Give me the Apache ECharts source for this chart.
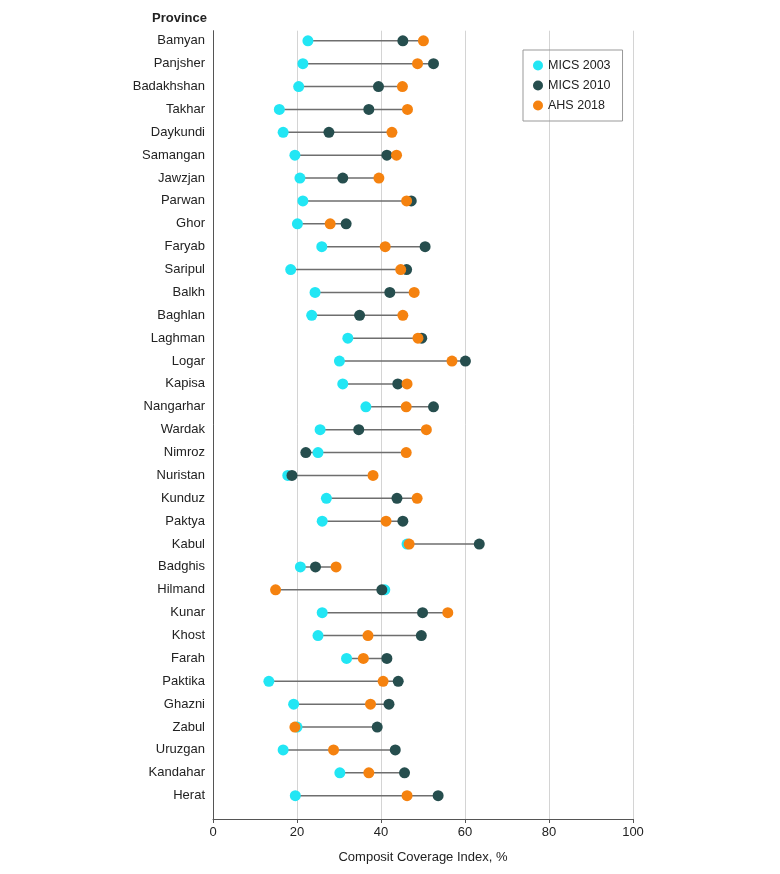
<!DOCTYPE html>
<html>
<head>
<meta charset="utf-8">
<script src="https://cdn.jsdelivr.net/npm/echarts@6/dist/echarts.min.js"></script>
<style>
html,body{margin:0;padding:0;background:#fff;}
#chart{width:780px;height:874px;}
</style>
</head>
<body>
<div id="chart"></div>
<script>
const provinces = ['Bamyan','Panjsher','Badakhshan','Takhar','Daykundi','Samangan','Jawzjan','Parwan','Ghor','Faryab','Saripul','Balkh','Baghlan','Laghman','Logar','Kapisa','Nangarhar','Wardak','Nimroz','Nuristan','Kunduz','Paktya','Kabul','Badghis','Hilmand','Kunar','Khost','Farah','Paktika','Ghazni','Zabul','Uruzgan','Kandahar','Herat'];
const mics2003 = [22.6,21.4,20.4,15.8,16.7,19.5,20.7,21.4,20.1,25.9,18.5,24.3,23.5,32.1,30.1,30.9,36.4,25.5,25.0,17.8,27.0,26.0,46.2,20.8,40.9,26.0,25.0,31.8,13.3,19.2,20.0,16.7,30.2,19.6];
const mics2010 = [45.2,52.5,39.4,37.1,27.6,41.4,30.9,47.2,31.7,50.5,46.1,42.1,34.9,49.7,60.1,44.0,52.5,34.7,22.1,18.8,43.8,45.2,63.4,24.4,40.2,49.9,49.6,41.4,44.1,41.9,39.1,43.4,45.6,53.6];
const ahs2018 = [50.1,48.7,45.1,46.3,42.6,43.7,39.5,46.1,27.9,41.0,44.7,47.9,45.2,48.8,56.9,46.2,46.0,50.8,46.0,38.1,48.6,41.2,46.7,29.3,14.9,55.9,36.9,35.8,40.5,37.5,19.5,28.7,37.1,46.2];
const xTicks = [0,20,40,60,80,100];

const FONT = 'Liberation Sans';
const C1 = '#22E6F4', C2 = '#264E4E', C3 = '#F5820F';
const idx = provinces.map((_, i) => i);

const pts = arr => arr.map((v, i) => [v, i]);
const ranges = idx.map(i => {
  const vals = [mics2003[i], mics2010[i], ahs2018[i]];
  return [Math.min(...vals), Math.max(...vals), i];
});

const chart = echarts.init(document.getElementById('chart'), null, {renderer:'canvas'});
chart.setOption({
  animation: false,
  textStyle: {fontFamily: FONT},
  grid: {left: 213, right: 147, top: 30.7, bottom: 55, containLabel: false},
  xAxis: {
    type: 'value', min: 0, max: 100, interval: 20, position: 'bottom',
    name: 'Composit Coverage Index, %', nameLocation: 'middle', nameGap: 32,
    nameTextStyle: {fontFamily: FONT, fontSize: 13, color: '#222'},
    axisLine: {show: true, onZero: false, lineStyle: {color: '#555', width: 1}},
    axisTick: {show: true, length: 4, lineStyle: {color: '#555'}},
    axisLabel: {fontFamily: FONT, fontSize: 13, color: '#222', margin: 7,
      customValues: xTicks},
    splitLine: {show: true, lineStyle: {color: '#d4d4d4', width: 1}}
  },
  yAxis: {
    type: 'value', inverse: true, min: -0.44, max: 34.02,
    axisLine: {show: true, onZero: false, lineStyle: {color: '#555', width: 1}},
    axisTick: {show: false},
    splitLine: {show: false},
    axisLabel: {
      fontFamily: FONT, fontSize: 13, color: '#222', margin: 8,
      customValues: idx,
      formatter: v => provinces[Math.round(v)] || ''
    }
  },
  legend: {
    orient: 'vertical', left: 523, top: 50,
    padding: [9, 12, 9, 10], itemGap: 7,
    itemWidth: 10, itemHeight: 10,
    borderColor: '#999', borderWidth: 1,
    textStyle: {fontFamily: FONT, fontSize: 12.5, color: '#222'},
    data: [
      {name: 'MICS 2003', icon: 'circle'},
      {name: 'MICS 2010', icon: 'circle'},
      {name: 'AHS 2018', icon: 'circle'}
    ]
  },
  graphic: [{
    type: 'text', x: 207, y: 18,
    style: {text: 'Province', fontFamily: FONT, fontSize: 13, fontWeight: 'bold',
      fill: '#222', align: 'right', verticalAlign: 'middle'}
  }],
  series: [
    {
      type: 'custom', name: 'range', silent: true, z: 1,
      data: ranges,
      renderItem: (params, api) => {
        const a = api.coord([api.value(0), api.value(2)]);
        const b = api.coord([api.value(1), api.value(2)]);
        return {type: 'line', shape: {x1: a[0], y1: a[1], x2: b[0], y2: b[1]},
          style: {stroke: '#6e6e6e', lineWidth: 1.5}};
      }
    },
    {type: 'scatter', name: 'MICS 2003', data: pts(mics2003), symbolSize: 11, z: 3,
      itemStyle: {color: C1, opacity: 1}},
    {type: 'scatter', name: 'MICS 2010', data: pts(mics2010), symbolSize: 11, z: 4,
      itemStyle: {color: C2, opacity: 1}},
    {type: 'scatter', name: 'AHS 2018', data: pts(ahs2018), symbolSize: 11, z: 5,
      itemStyle: {color: C3, opacity: 1}}
  ]
});
</script>
</body>
</html>
